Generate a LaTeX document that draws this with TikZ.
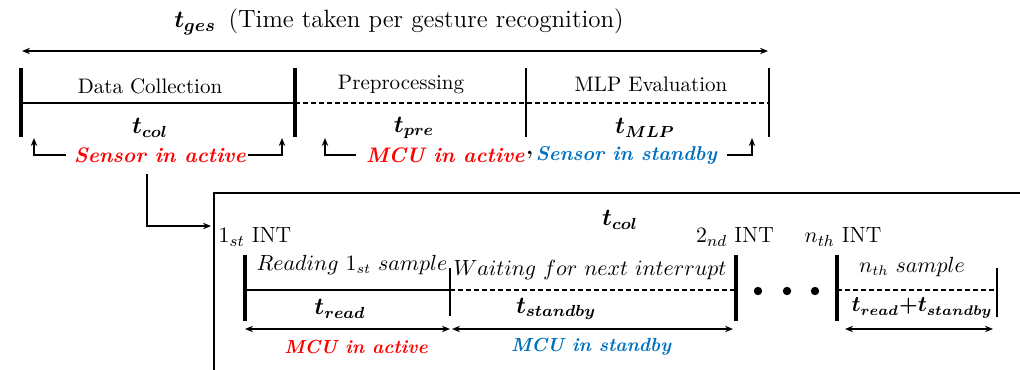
\documentclass[tikz,border=0pt]{standalone}
\usepackage{bm}
\usetikzlibrary{arrows.meta}
\definecolor{myred}{RGB}{255,0,0}
\definecolor{myblue}{RGB}{0,112,192}
\begin{document}
\begin{tikzpicture}[x=0.5pt,y=-0.5pt,
  thickbar/.style={line width=2.2pt},
  thinbar/.style={line width=0.7pt},
  solidln/.style={line width=0.7pt},
  dashln/.style={line width=0.7pt,dash pattern=on 2.5pt off 1.5pt},
  arr/.style={-{Stealth[length=4pt,width=3.2pt]},line width=0.7pt},
  darr/.style={{Stealth[length=4pt,width=3.2pt]}-{Stealth[length=4pt,width=3.2pt]},line width=0.7pt},
  lbl/.style={inner sep=0pt,font=\fontsize{10.5}{12}\selectfont},
  tlbl/.style={inner sep=0pt,font=\fontsize{11.5}{13}\selectfont},
  redlbl/.style={inner sep=0pt,text=myred,font=\fontsize{10.5}{12}\selectfont\bfseries\itshape},
  bluelbl/.style={inner sep=0pt,text=myblue,font=\fontsize{10.5}{12}\selectfont\bfseries\itshape}
]
\useasboundingbox (0,0) rectangle (1020,369);

% ---------- top timeline ----------
\node[inner sep=0pt,font=\fontsize{12.5}{14}\selectfont] (title) at (399,22) {$\bm{t_{ges}}$\enspace(Time taken per gesture recognition)};
\coordinate (gL) at (22,51);
\coordinate (gR) at (768,51);
\draw[darr] (gL) -- (gR);

\coordinate (b1t) at (21,68);  \coordinate (b1b) at (21,137);
\coordinate (b2t) at (295,68); \coordinate (b2b) at (295,137);
\coordinate (b3t) at (526,68); \coordinate (b3b) at (526,137);
\coordinate (b4t) at (769,68); \coordinate (b4b) at (769,137);
\coordinate (h1) at (21,103); \coordinate (h2) at (295,103); \coordinate (h3) at (768,103);

\draw[solidln] (h1) -- (h2);
\draw[dashln] (h2) -- (h3);
\draw[thickbar] (b1t) -- (b1b);
\draw[thickbar] (b2t) -- (b2b);
\draw[thinbar] (b3t) -- (b3b);
\draw[thinbar] (b4t) -- (b4b);

\node[lbl] (dc) at (150,86) {Data Collection};
\node[lbl] (pp) at (401,84) {Preprocessing};
\node[lbl] (mlp) at (651,84) {MLP Evaluation};
\node[tlbl] (tcol) at (150,128) {$\bm{t_{col}}$};
\node[tlbl] (tpre) at (414,128) {$\bm{t_{pre}}$};
\node[tlbl] (tmlp) at (645,128) {$\bm{t_{MLP}}$};

\node[redlbl] (sens) at (160,155) {Sensor in active};
\coordinate (s1) at (34,138);
\coordinate (s2) at (282,138);
\draw[arr] ([xshift=-4pt]sens.west) -| (s1);
\draw[arr] ([xshift=1pt]sens.east) -| (s2);

\node[redlbl,anchor=east] (mcua) at (525,155) {MCU in active};
\node[inner sep=0pt,anchor=west,font=\fontsize{10.5}{12}\selectfont] (comma) at ([xshift=0.5pt]mcua.east) {\textbf{,}};
\node[bluelbl,anchor=west,font=\fontsize{10}{12}\selectfont\bfseries\itshape] (sensb) at ([xshift=1pt]comma.east) {Sensor in standby};
\coordinate (m1) at (325,138);
\coordinate (m2) at (752,138);
\draw[arr] ([xshift=-5pt]mcua.west) -| (m1);
\draw[arr] ([xshift=5pt]sensb.east) -| (m2);

% ---------- connector to detail box ----------
\coordinate (c0) at (147,174);
\coordinate (boxin) at (211,226);
\draw[arr] (c0) |- (boxin);
\coordinate (boxBL) at (214,372);
\coordinate (boxTL) at (214,193);
\coordinate (boxTR) at (1022,193);
\draw[line width=0.9pt] (boxBL) -- (boxTL) -- (boxTR);

% ---------- detail timeline ----------
\node[tlbl] (tcol2) at (620,220) {$\bm{t_{col}}$};
\node[lbl,font=\fontsize{11}{13}\selectfont] (int1) at (255,237) {$1_{st}$ INT};
\node[lbl,font=\fontsize{11}{13}\selectfont] (int2) at (735,237) {$2_{nd}$ INT};
\node[lbl,font=\fontsize{11}{13}\selectfont] (intn) at (843,237) {$n_{th}$ INT};

\coordinate (d1t) at (245,255);  \coordinate (d1b) at (245,321);
\coordinate (d2t) at (450,268);  \coordinate (d2b) at (450,316);
\coordinate (d3t) at (736,255);  \coordinate (d3b) at (736,321);
\coordinate (d4t) at (837,255);  \coordinate (d4b) at (837,321);
\coordinate (d5t) at (997,268);  \coordinate (d5b) at (997,317);
\coordinate (k1) at (245,290); \coordinate (k2) at (450,290); \coordinate (k3) at (736,290);
\coordinate (k4) at (837,290); \coordinate (k5) at (995,290);

\draw[solidln] (k1) -- (k2);
\draw[dashln] (k2) -- (k3);
\draw[dashln] (k4) -- (k5);
\draw[thickbar] (d1t) -- (d1b);
\draw[thinbar] (d2t) -- (d2b);
\draw[thickbar] (d3t) -- (d3b);
\draw[thickbar] (d4t) -- (d4b);
\draw[thinbar] (d5t) -- (d5b);

\fill (758,291) circle (4.2);
\fill (787,291) circle (4.2);
\fill (815,291) circle (4.2);

\node[lbl,font=\fontsize{10.5}{12}\selectfont] (read1) at (352,265) {$Reading\ 1_{st}\ sample$};
\node[lbl,font=\fontsize{10.5}{12}\selectfont] (wait) at (590,270) {$Waiting\ for\ next\ interrupt$};
\node[lbl,font=\fontsize{10.5}{12}\selectfont] (nsam) at (912,267) {$n_{th}\ sample$};

\node[tlbl] (tread) at (340,309) {$\bm{t_{read}}$};
\node[tlbl] (tstb) at (556,309) {$\bm{t_{standby}}$};
\node[tlbl,font=\fontsize{10.5}{12}\selectfont] (tsum) at (922,308) {$\bm{t_{read}}$\textbf{+}$\bm{t_{standby}}$};

\coordinate (a1) at (245,329); \coordinate (a2) at (450,329);
\coordinate (a3) at (452,329); \coordinate (a4) at (733,329);
\coordinate (a5) at (845,329); \coordinate (a6) at (993,329);
\draw[darr] (a1) -- (a2);
\draw[darr] (a3) -- (a4);
\draw[darr] (a5) -- (a6);

\node[redlbl,font=\fontsize{9.5}{11}\selectfont\bfseries\itshape] (mcuact) at (356,347) {MCU in active};
\node[bluelbl,font=\fontsize{9.5}{11}\selectfont\bfseries\itshape] (mcustb) at (591,347) {MCU in standby};
\end{tikzpicture}
\end{document}
